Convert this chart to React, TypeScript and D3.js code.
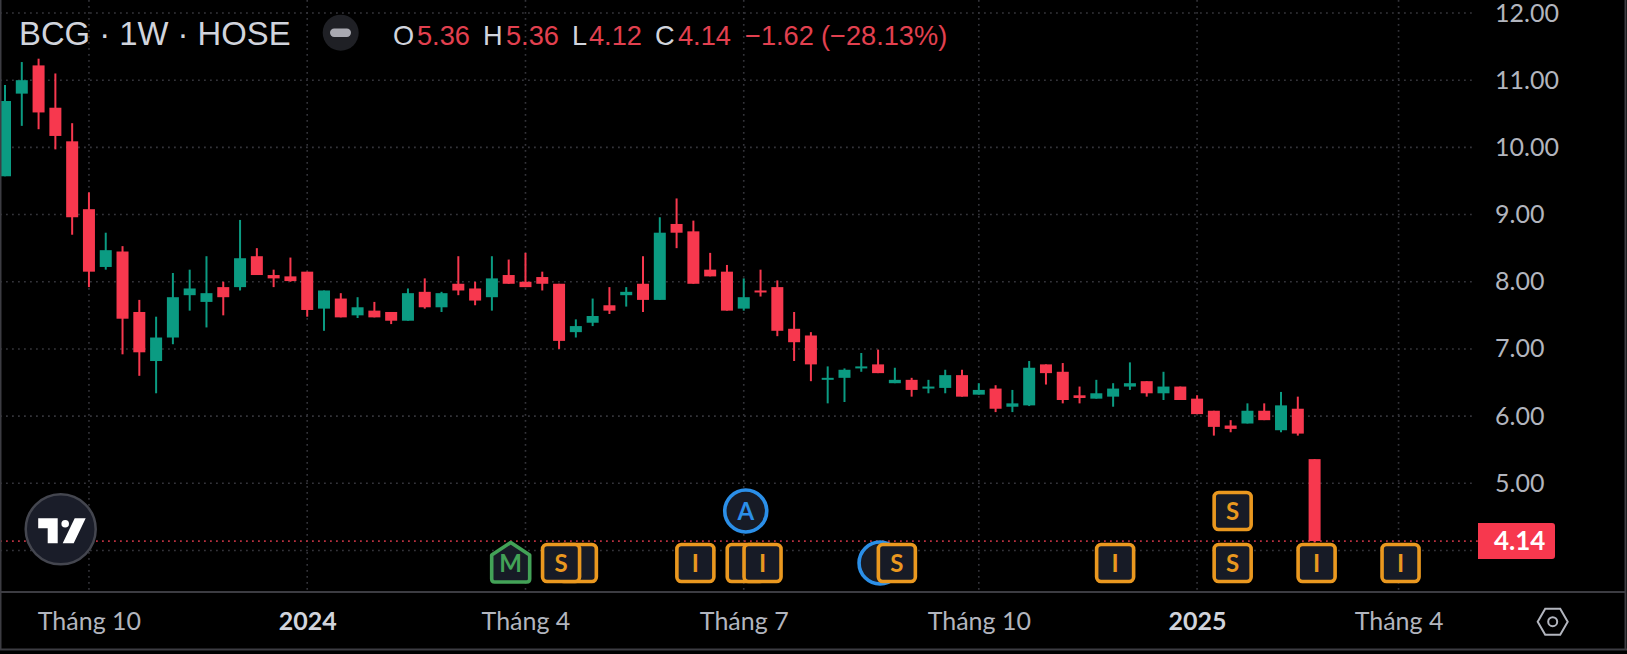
// weekly candlestick chart in the dark TradingView style
import React, { useEffect, useRef } from "react";
import * as d3 from "d3";

// one entry per week
const opens = [9.57, 10.8, 11.22, 10.59, 10.09, 9.08, 8.22, 8.45, 7.55, 6.82, 7.17, 7.8, 7.7, 7.92, 7.92, 8.38, 8.1, 8.08, 8.15, 7.6, 7.75, 7.5, 7.57, 7.55, 7.42, 7.85, 7.62, 7.97, 7.9, 7.77, 8.1, 8.0, 8.07, 7.97, 7.25, 7.39, 7.65, 7.8, 7.97, 7.73, 8.86, 8.75, 8.18, 8.15, 7.6, 7.87, 7.92, 7.3, 7.2, 6.55, 6.57, 6.72, 6.77, 6.49, 6.54, 6.41, 6.42, 6.61, 6.32, 6.41, 6.14, 6.16, 6.77, 6.66, 6.31, 6.26, 6.29, 6.44, 6.52, 6.34, 6.44, 6.26, 6.08, 5.86, 5.89, 6.08, 5.79, 6.11, 5.36];
const highs = [10.93, 11.27, 11.32, 11.1, 10.36, 9.33, 8.73, 8.53, 7.73, 7.48, 8.13, 8.18, 8.38, 8.0, 8.92, 8.5, 8.18, 8.36, 8.15, 7.87, 7.83, 7.77, 7.7, 7.55, 7.9, 8.05, 7.85, 8.38, 8.0, 8.38, 8.33, 8.43, 8.15, 7.97, 7.44, 7.75, 7.92, 7.92, 8.38, 8.96, 9.24, 8.91, 8.43, 8.25, 8.05, 8.18, 8.02, 7.55, 7.25, 6.74, 6.71, 6.94, 6.99, 6.72, 6.57, 6.54, 6.69, 6.69, 6.49, 6.46, 6.39, 6.82, 6.77, 6.79, 6.44, 6.54, 6.49, 6.8, 6.52, 6.66, 6.44, 6.31, 6.08, 5.94, 6.19, 6.19, 6.36, 6.29, 5.36];
const lows = [9.57, 10.32, 10.27, 9.97, 8.7, 7.92, 8.18, 6.92, 6.6, 6.34, 7.07, 7.57, 7.32, 7.5, 7.87, 8.1, 7.92, 8.0, 7.48, 7.27, 7.47, 7.46, 7.47, 7.37, 7.42, 7.6, 7.55, 7.8, 7.65, 7.57, 7.97, 7.92, 7.87, 7.0, 7.17, 7.34, 7.52, 7.63, 7.55, 7.73, 8.5, 7.97, 8.08, 7.57, 7.57, 7.78, 7.19, 6.82, 6.52, 6.19, 6.21, 6.66, 6.64, 6.49, 6.29, 6.34, 6.34, 6.29, 6.32, 6.06, 6.06, 6.15, 6.47, 6.19, 6.19, 6.26, 6.14, 6.39, 6.29, 6.24, 6.24, 6.03, 5.71, 5.76, 5.89, 5.94, 5.76, 5.71, 4.12];
const closes = [10.69, 11.0, 10.52, 10.17, 8.96, 8.15, 8.47, 7.45, 6.95, 7.17, 7.77, 7.9, 7.83, 7.77, 8.35, 8.1, 8.05, 8.01, 7.58, 7.87, 7.47, 7.62, 7.47, 7.42, 7.83, 7.62, 7.83, 7.87, 7.72, 8.05, 7.97, 7.92, 7.97, 7.12, 7.34, 7.49, 7.57, 7.85, 7.73, 8.73, 8.73, 7.97, 8.08, 7.57, 7.77, 7.85, 7.27, 7.1, 6.77, 6.57, 6.69, 6.74, 6.64, 6.54, 6.39, 6.44, 6.61, 6.29, 6.39, 6.11, 6.19, 6.72, 6.64, 6.24, 6.27, 6.34, 6.41, 6.49, 6.34, 6.44, 6.24, 6.03, 5.84, 5.81, 6.08, 5.94, 6.16, 5.74, 4.14];

const priceTicks = [4, 5, 6, 7, 8, 9, 10, 11, 12];
const priceLabels = [5, 6, 7, 8, 9, 10, 11, 12];
const lastPrice = 4.14;

const timeTicks = [5, 18, 31, 44, 58, 71, 83];
const timeLabels = ["Tháng 10", "2024", "Tháng 4", "Tháng 7", "Tháng 10", "2025", "Tháng 4"];
const boldTicks = [18, 71];

// event flags on the time scale, in drawing order
const flagWeeks = [30, 34, 33, 41, 44, 45, 44, 52, 53, 66, 73, 73, 78, 83];
const flagKinds = ["m", "box", "box", "box", "box", "box", "circle", "circle", "box", "box", "box", "box", "box", "box"];
const flagLetters = ["M", "", "S", "I", "", "I", "A", "", "S", "I", "S", "S", "I", "I"];
const flagRows = [0, 0, 0, 0, 0, 0, 1, 0, 0, 0, 0, 1, 0, 0];

const headerParts = ["O", "5.36", "H", "5.36", "L", "4.12", "C", "4.14", "−1.62", "(−28.13%)"];
const headerStarts = [393, 417, 483, 506, 572, 589, 655, 678, 745, 821];

const UP = "#0b9b82";
const DOWN = "#f7384e";
const TEXT_DOWN = "#e2404f";
const GRID = "#34343a";
const ORANGE = "#ea981f";
const BLUE = "#2b8fe8";
const GREEN = "#43a257";
const width = 1627;
const height = 654;
const axisFont = "Lato, 'Open Sans', sans-serif";
const headFont = "'Liberation Sans', Arial, sans-serif";

const App: React.FC = () => {
    const svgRef = useRef<SVGSVGElement>(null);

    useEffect(() => {
        if (!svgRef.current) return;
        const svg = d3.select(svgRef.current);
        svg.selectAll("*").remove();

        const plotRight = 1475;
        const plotBottom = 591;

        const x = d3.scaleLinear().domain([0, 78]).range([5, 1314.6]);
        const y = d3.scaleLinear().domain([4, 12]).range([550.5, 13]);

        svg.append("rect").attr("width", width).attr("height", height).attr("fill", "#000");

        // grid
        const grid = svg.append("g").attr("stroke", GRID).attr("stroke-width", 1.6).attr("stroke-dasharray", "1.8 4.2");
        grid.selectAll("line.h")
            .data(priceTicks)
            .join("line")
            .attr("x1", 0)
            .attr("x2", plotRight)
            .attr("y1", (d) => y(d))
            .attr("y2", (d) => y(d));
        grid.selectAll("line.v")
            .data(timeTicks)
            .join("line")
            .attr("class", "v")
            .attr("x1", (d) => x(d))
            .attr("x2", (d) => x(d))
            .attr("y1", 0)
            .attr("y2", plotBottom);

        // last price line
        svg.append("line")
            .attr("x1", 0)
            .attr("x2", 1478)
            .attr("y1", y(lastPrice))
            .attr("y2", y(lastPrice))
            .attr("stroke", "#b8303f")
            .attr("stroke-width", 1.6)
            .attr("stroke-dasharray", "1.8 4.2");

        // candles
        const weeks = d3.range(opens.length);
        const color = (i: number) => (closes[i] >= opens[i] ? UP : DOWN);
        const candles = svg.append("g");
        candles.selectAll("line")
            .data(weeks)
            .join("line")
            .attr("x1", (i) => x(i))
            .attr("x2", (i) => x(i))
            .attr("y1", (i) => y(highs[i]))
            .attr("y2", (i) => y(lows[i]))
            .attr("stroke", color)
            .attr("stroke-width", 2);
        candles.selectAll("rect")
            .data(weeks)
            .join("rect")
            .attr("x", (i) => x(i) - 6)
            .attr("width", 12)
            .attr("y", (i) => y(Math.max(opens[i], closes[i])))
            .attr("height", (i) => Math.max(2, Math.abs(y(opens[i]) - y(closes[i]))))
            .attr("fill", color);

        // flags
        const flagColor = (i: number) =>
            flagKinds[i] === "m" ? GREEN : flagKinds[i] === "circle" ? BLUE : ORANGE;
        const flags = svg
            .append("g")
            .selectAll("g")
            .data(d3.range(flagWeeks.length))
            .join("g")
            .attr("transform", (i) => `translate(${x(flagWeeks[i]) + 2},${flagRows[i] ? 511 : 563})`);
        flags.each(function (i) {
            const g = d3.select(this);
            if (flagKinds[i] === "box") {
                g.append("rect").attr("x", -18.5).attr("y", -18.5).attr("width", 37).attr("height", 37).attr("rx", 4.5);
            } else if (flagKinds[i] === "circle") {
                g.append("circle").attr("r", 21);
            } else {
                g.append("path").attr("d", "M-19,-8L0,-20.5L19,-8V16Q19,19 16,19H-16Q-19,19 -19,16Z");
            }
        });
        flags.selectAll("rect,circle,path")
            .attr("fill", "#171b26")
            .attr("stroke", (_, n, nodes) => flagColor(d3.select((nodes[n] as Element).parentNode as Element).datum() as number))
            .attr("stroke-width", 3.6)
            .attr("stroke-linejoin", "round");
        flags.append("text")
            .attr("text-anchor", "middle")
            .attr("y", 8.5)
            .attr("font-family", axisFont)
            .attr("font-weight", 700)
            .attr("font-size", 24)
            .attr("fill", flagColor)
            .text((i) => flagLetters[i]);

        // price axis
        const priceAxis = svg
            .append("g")
            .attr("transform", "translate(1495,0)")
            .call(d3.axisRight(y).tickValues(priceLabels).tickSize(0).tickPadding(0).tickFormat((d) => (d as number).toFixed(2)));
        priceAxis.select(".domain").remove();
        priceAxis.selectAll("text")
            .attr("font-family", axisFont)
            .attr("font-size", 25)
            .attr("fill", "#b2b5be");

        // last price badge
        svg.append("path")
            .attr("d", `M1478,${y(lastPrice) - 18}H1552a3,3 0 0 1 3,3V${y(lastPrice) + 15}a3,3 0 0 1 -3,3H1478Z`)
            .attr("fill", DOWN);
        svg.append("text")
            .attr("x", 1494)
            .attr("y", y(lastPrice) + 9)
            .attr("font-family", axisFont)
            .attr("font-weight", 700)
            .attr("font-size", 26)
            .attr("fill", "#fff")
            .text(lastPrice.toFixed(2));

        // time axis
        const timeAxis = svg
            .append("g")
            .attr("transform", "translate(0,592)")
            .call(
                d3.axisBottom(x)
                    .tickValues(timeTicks)
                    .tickSize(0)
                    .tickPadding(20)
                    .tickFormat((_, i) => timeLabels[i])
            );
        timeAxis.select(".domain").remove();
        timeAxis.selectAll<SVGTextElement, number>("text")
            .attr("font-family", axisFont)
            .attr("font-size", 25)
            .attr("font-weight", (d) => (boldTicks.includes(d) ? 700 : 400))
            .attr("fill", (d) => (boldTicks.includes(d) ? "#d1d4dc" : "#b2b5be"));

        // frame
        const frame = svg.append("g").attr("stroke", "#3c3c42").attr("stroke-width", 2).attr("fill", "none");
        frame.append("path").attr("d", `M0,${plotBottom + 1}H1625M0,649.5H${width}M1625.5,0V649.5M0.5,0V649.5`);

        // logo
        const logo = svg.append("g").attr("transform", "translate(60.7,529.3)");
        logo.append("circle").attr("r", 35).attr("fill", "#1a1d29").attr("stroke", "#44464f").attr("stroke-width", 2.5);
        logo.append("path").attr("d", "M-22.5,-11H-3V14H-13V-1H-22.5Z M14,-11H25L13,14H2Z").attr("fill", "#fff");
        logo.append("circle").attr("cx", 4.5).attr("cy", -5.5).attr("r", 3.8).attr("fill", "#fff");

        // settings icon
        const gear = svg
            .append("g")
            .attr("transform", "translate(1552.7,621.7)")
            .attr("fill", "none")
            .attr("stroke", "#b2b5be")
            .attr("stroke-width", 2);
        gear.append("path").attr("d", "M-15,0L-7.5,-13H7.5L15,0L7.5,13H-7.5Z");
        gear.append("circle").attr("r", 4.5);

        // header
        svg.append("text")
            .attr("x", 19)
            .attr("y", 45)
            .attr("font-family", headFont)
            .attr("font-size", 32.8)
            .attr("fill", "#d1d4dc")
            .text("BCG · 1W · HOSE");
        svg.append("circle").attr("cx", 340.7).attr("cy", 32.7).attr("r", 18).attr("fill", "#1f2025");
        svg.append("rect").attr("x", 330).attr("y", 28.5).attr("width", 21).attr("height", 8.5).attr("rx", 4.2).attr("fill", "#a9a9b1");
        svg.append("g")
            .selectAll("text")
            .data(headerParts)
            .join("text")
            .attr("x", (_, i) => headerStarts[i])
            .attr("y", 45)
            .attr("font-family", headFont)
            .attr("font-size", 27.2)
            .attr("fill", (_, i) => (i < 8 && i % 2 === 0 ? "#d1d4dc" : TEXT_DOWN))
            .text((d) => d);
    }, []);

    return (
        <svg
            ref={svgRef}
            width={width}
            height={height}
            style={{ position: "fixed", left: 0, top: 0, display: "block" }}
        ></svg>
    );
};

export default App;
